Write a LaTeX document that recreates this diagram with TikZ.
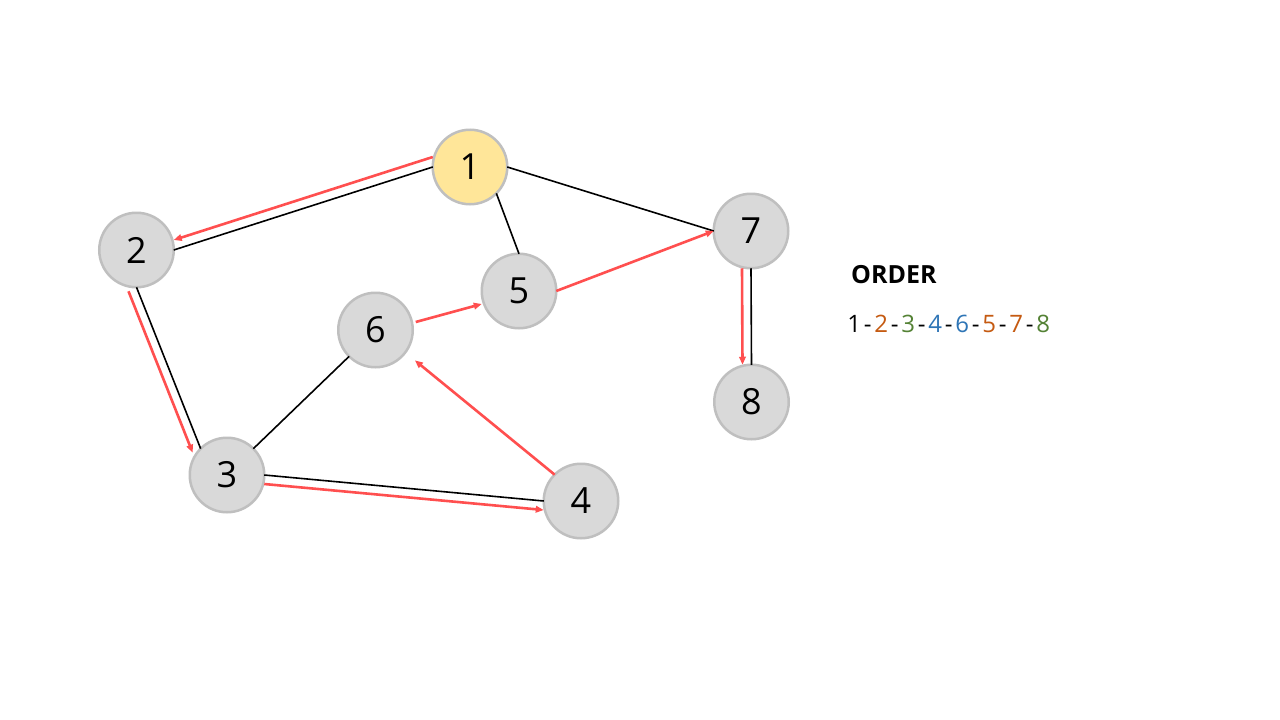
\documentclass[tikz,border=0pt]{standalone}
\usepackage{fontspec}
\setmainfont{Open Sans}
\usetikzlibrary{arrows.meta}
\definecolor{nodegray}{HTML}{D9D9D9}
\definecolor{nodeborder}{HTML}{BFBFBF}
\definecolor{startfill}{HTML}{FFE699}
\definecolor{arrowred}{HTML}{FF4F4F}
\definecolor{ordorange}{HTML}{C55A11}
\definecolor{ordgreen}{HTML}{548235}
\definecolor{ordblue}{HTML}{2E75B6}
\newcommand{\odig}[2]{\makebox[16pt][c]{\textcolor{#1}{#2}}}
\newcommand{\ohyp}{\makebox[11pt][c]{-}}
\tikzset{
  vert/.style={circle, draw=nodeborder, line width=2.5pt, fill=nodegray, minimum size=74.5pt, inner sep=0pt, outer sep=0pt, font=\fontsize{36}{40}\selectfont},
  edge/.style={draw=black, line width=1.6pt},
  visit/.style={draw=arrowred, line width=2.6pt, -{Triangle[length=8pt,width=6.5pt]}},
}
\begin{document}
\begin{tikzpicture}[x=1pt,y=-1pt]
\path[use as bounding box, fill=white] (0,0) rectangle (1280,720);
\node[vert, fill=startfill] (n1) at (470,167) {1};
\node[vert] (n2) at (136.5,250) {2};
\node[vert] (n3) at (227,475) {3};
\node[vert] (n4) at (581,501) {4};
\node[vert] (n5) at (519,291) {5};
\node[vert] (n6) at (375.5,330) {6};
\node[vert] (n7) at (751,231) {7};
\node[vert] (n8) at (751.5,402) {8};
% black edges
\draw[edge] (n1.west) -- (n2.east);
\draw[edge] (n1.south east) -- (n5.north);
\draw[edge] (n1.east) -- (n7.west);
\draw[edge] (n2.south) -- (n3.north west);
\draw[edge] (n3.north east) -- (n6.south west);
\draw[edge] (n3.east) -- (n4.west);
\draw[edge] (n7.south) -- (n8.north);
% red traversal arrows
\draw[visit] ([yshift=10pt]n1.west) -- ([yshift=10pt]n2.east);
\draw[visit] ([shift={(-8pt,-4pt)}]n2.south) -- ([shift={(-8pt,-4pt)}]n3.north west);
\draw[visit] ([yshift=-9pt]n3.east) -- ([yshift=-9pt]n4.west);
\draw[visit] (n4.north west) -- ([shift={(13pt,-4pt)}]n6.south east);
\draw[visit] ([shift={(3pt,8pt)}]n6.east) -- ([yshift=-13pt]n5.west);
\draw[visit] (n5.east) -- (n7.west);
\draw[visit] ([xshift=-9pt]n7.south) -- ([xshift=-9pt]n8.north);
% legend
\node[anchor=base west, inner sep=0pt, font=\bfseries\fontsize{25}{30}\selectfont] (ordtitle) at (851,283) {ORDER};
\node[anchor=base west, inner sep=0pt, font=\fontsize{24}{30}\selectfont] (ordseq) at (846,332)
 {\odig{black}{1}\ohyp\odig{ordorange}{2}\ohyp\odig{ordgreen}{3}\ohyp\odig{ordblue}{4}\ohyp\odig{ordblue}{6}\ohyp\odig{ordorange}{5}\ohyp\odig{ordorange}{7}\ohyp\odig{ordgreen}{8}};
\end{tikzpicture}
\end{document}
